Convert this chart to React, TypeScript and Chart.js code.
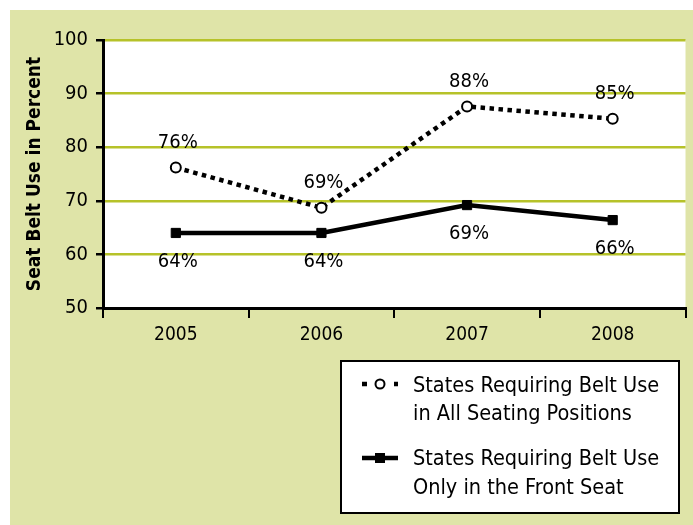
import React, { useEffect, useRef } from 'react';
import { Chart, registerables } from 'chart.js';
Chart.register(...registerables);

const years = ['2005', '2006', '2007', '2008'];
const allSeats = [76.2, 68.7, 87.6, 85.3];
const frontSeat = [64.0, 64.0, 69.2, 66.4];
const allSeatsLabels = ['76%', '69%', '88%', '85%'];
const frontSeatLabels = ['64%', '64%', '69%', '66%'];
const yTicks = [50, 60, 70, 80, 90, 100];
const legendAll = ['States Requiring Belt Use', 'in All Seating Positions'];
const legendFront = ['States Requiring Belt Use', 'Only in the Front Seat'];
const yTitle = 'Seat Belt Use in Percent';

const NARROW = "'DejaVu Sans Condensed', 'Liberation Sans Narrow', sans-serif";
const GREEN_BG = '#dfe4a8';
const GRID = '#b6c229';

const decor = {
  id: 'decor',
  beforeDraw(chart: any) {
    const { ctx, width, height, chartArea } = chart;
    ctx.save();
    ctx.fillStyle = GREEN_BG;
    ctx.fillRect(10, 10, width - 10, height - 10);
    ctx.fillStyle = '#ffffff';
    ctx.fillRect(chartArea.left, chartArea.top, chartArea.right - chartArea.left, chartArea.bottom - chartArea.top);
    ctx.restore();
  },
  afterDatasetsDraw(chart: any) {
    const { ctx } = chart;
    ctx.save();
    ctx.fillStyle = '#000';
    ctx.font = `20px ${NARROW}`;
    ctx.textAlign = 'center';
    ctx.textBaseline = 'middle';
    const m0 = chart.getDatasetMeta(0);
    m0.data.forEach((p: any, i: number) => ctx.fillText(allSeatsLabels[i], p.x + 2, p.y - 25));
    const m1 = chart.getDatasetMeta(1);
    m1.data.forEach((p: any, i: number) => ctx.fillText(frontSeatLabels[i], p.x + 2, p.y + 29));
    ctx.restore();
  },
  afterDraw(chart: any) {
    const { ctx } = chart;
    ctx.save();
    // legend box
    ctx.fillStyle = '#fff';
    ctx.fillRect(341, 361, 338, 152);
    ctx.strokeStyle = '#000';
    ctx.lineWidth = 2;
    ctx.strokeRect(341, 361, 338, 152);
    // entry 1 sample
    ctx.lineWidth = 4.5;
    ctx.setLineDash([5, 11]);
    ctx.beginPath();
    ctx.moveTo(362, 384);
    ctx.lineTo(398, 384);
    ctx.stroke();
    ctx.setLineDash([]);
    ctx.beginPath();
    ctx.arc(380, 384, 4.5, 0, Math.PI * 2);
    ctx.fillStyle = '#fff';
    ctx.fill();
    ctx.lineWidth = 2;
    ctx.stroke();
    // entry 2 sample
    ctx.lineWidth = 4.5;
    ctx.beginPath();
    ctx.moveTo(362, 458);
    ctx.lineTo(398, 458);
    ctx.stroke();
    ctx.fillStyle = '#000';
    ctx.fillRect(375, 453, 10, 10);
    // text
    ctx.font = `21.5px ${NARROW}`;
    ctx.textAlign = 'left';
    ctx.textBaseline = 'middle';
    ctx.fillText(legendAll[0], 413, 386);
    ctx.fillText(legendAll[1], 413, 414);
    ctx.fillText(legendFront[0], 413, 459);
    ctx.fillText(legendFront[1], 413, 488);
    ctx.restore();
  },
};

export default function App() {
  const ref = useRef<HTMLCanvasElement>(null);
  useEffect(() => {
    const chart = new Chart(ref.current!, {
      type: 'line',
      data: {
        labels: years,
        datasets: [
          {
            label: legendAll.join(' '),
            data: allSeats,
            borderColor: '#000',
            borderWidth: 4.5,
            borderDash: [4.5, 4.5],
            pointStyle: 'circle',
            pointRadius: 5,
            pointBorderWidth: 2,
            pointBackgroundColor: '#fff',
            pointBorderColor: '#000',
            tension: 0,
          },
          {
            label: legendFront.join(' '),
            data: frontSeat,
            borderColor: '#000',
            borderWidth: 4.5,
            pointStyle: 'rect',
            pointRadius: 6.5,
            pointBorderWidth: 1,
            pointBackgroundColor: '#000',
            pointBorderColor: '#000',
            tension: 0,
          },
        ],
      },
      options: {
        responsive: false,
        animation: false,
        events: [],
        layout: { padding: { left: 0, top: 40, right: 2, bottom: 172 } },
        plugins: { legend: { display: false }, tooltip: { enabled: false } },
        scales: {
          x: {
            offset: true,
            afterFit: (s: any) => { s.height = 45; },
            grid: {
              display: true,
              drawOnChartArea: false,
              drawTicks: true,
              tickLength: 10,
              color: '#000',
              lineWidth: 2,
              offset: true,
            },
            border: { color: '#000', width: 3 },
            ticks: { color: '#000', font: { family: NARROW, size: 19 }, padding: 6 },
          },
          y: {
            min: 50,
            max: 100,
            afterBuildTicks: (s: any) => { s.ticks = yTicks.map((v) => ({ value: v })); },
            afterFit: (s: any) => { s.width = 103; },
            grid: {
              color: (c: any) => (c.tick && c.tick.value === 50 ? 'rgba(0,0,0,0)' : GRID),
              tickColor: '#000',
              lineWidth: 2.5,
              drawTicks: true,
              tickLength: 7,
            },
            border: { color: '#000', width: 3 },
            ticks: { color: '#000', font: { family: NARROW, size: 20 }, padding: 8 },
            title: {
              display: true,
              text: yTitle,
              color: '#000',
              font: { family: NARROW, size: 19, weight: 'bold' },
              padding: { top: 24, bottom: 0 },
            },
          },
        },
      },
      plugins: [decor],
    });
    return () => chart.destroy();
  }, []);
  return (
    <div style={{ position: 'absolute', left: 0, top: 0, width: 693, height: 525 }}>
      <canvas ref={ref} width={693} height={525} style={{ display: 'block' }} />
    </div>
  );
}
